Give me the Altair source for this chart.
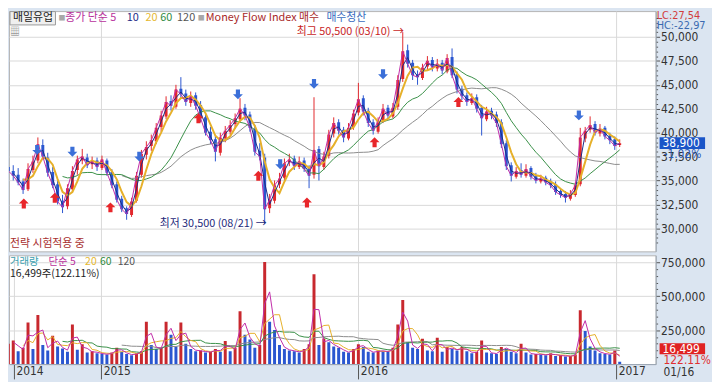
import altair as alt
import pandas as pd

# ---------------- data (weekly candles, won) ----------------
WEEK_START = "2014-08-22"
OPEN = [36400,36000,35600,34900,34100,36100,37100,38700,37400,35900,
        34600,32900,32300,34100,36100,37100,37400,36700,37100,36300,
        37100,35900,34600,33100,32100,31400,32900,35600,37700,38600,
        39100,40600,41700,43300,42700,44600,44100,43100,43900,42900,
        41600,40100,39300,37900,39400,40100,40900,41400,42600,41900,
        40400,38100,37400,32100,32900,34600,35300,36900,37300,36400,
        37100,36300,35600,38300,36400,37600,39900,41100,40300,39400,
        40600,42100,43600,42300,41100,40100,41300,42600,41700,42700,
        45600,48600,47300,46100,45700,46900,47600,46700,47300,46400,
        47900,46100,44600,43900,43100,43700,42600,41400,42300,41900,
        41100,38900,36600,35400,36100,35500,36300,35500,34900,35300,
        34900,34600,33900,33600,33100,33500,34600,39400,40300,40900,
        39900,40500,39700,39300,38700]
HIGH = [37200,36600,36300,35200,36800,37600,39500,39300,37900,36400,
        35000,33500,34600,36500,37600,38300,37800,37500,37400,37600,
        37300,36200,34900,33400,32300,33200,35900,38200,39100,39800,
        41000,42300,43800,43900,45000,45800,44500,44300,44200,43300,
        41900,40600,39700,40000,40700,41300,42000,43600,43000,42200,
        40800,38900,37800,33600,35000,35800,37300,37800,37600,37500,
        37400,36600,43700,38600,38000,40300,41600,41400,40600,41000,
        42400,45200,43900,42600,41400,41600,43000,42900,43100,46000,
        50500,49200,47600,46500,47200,48000,47900,47700,47600,48200,
        48800,46400,44900,44200,44100,44000,42900,42700,42600,42200,
        41400,39200,36900,36400,36800,36700,36500,35800,35600,35500,
        35200,34900,34200,33900,34000,34800,40500,40600,41700,41200,
        40900,40700,40000,39600,39300]
LOW = [35300,35000,34500,33600,33900,35800,36800,37200,35400,34200,
       32500,31600,32000,33800,35600,36700,36300,36200,36000,36100,
       35500,34200,32700,31700,30900,31200,32700,35300,37200,38100,
       38800,40100,41400,42300,42500,43600,42800,42700,42400,41100,
       39700,38800,37000,37600,39000,39800,40400,41100,41300,40100,
       37600,37100,30500,31600,32600,34200,35000,36500,36100,36200,
       35900,34200,35200,35000,36100,37300,39500,39800,39000,39200,
       40300,41800,41800,40600,39800,39900,41000,41400,41500,42400,
       45300,46800,45500,45000,45500,46500,46400,46400,46100,46200,
       45700,44100,43400,42800,42900,42100,39700,41200,41400,40600,
       38400,36100,34900,35200,35300,35300,35100,34700,34700,34500,
       34200,33500,33200,32700,32900,33300,34400,39000,40000,39700,
       39600,39300,38800,38200,38500]
CLOSE = [36000,35500,34800,34000,36200,37000,38800,37500,35800,34500,
         32800,32200,34200,36000,37200,37500,36600,37000,36400,37200,
         35800,34500,33000,32000,31500,32800,35500,37800,38500,39200,
         40500,41800,43200,42800,44500,44000,43200,43800,42800,41500,
         40000,39200,38000,39500,40200,40800,41500,42500,41800,40500,
         38000,37500,32000,33000,34500,35200,36800,37200,36500,37000,
         36200,35500,38200,36500,37500,39800,41000,40200,39500,40500,
         42000,43500,42200,41000,40200,41200,42500,41800,42600,45500,
         48500,47200,46000,45800,46800,47500,46800,47200,46500,47800,
         46000,44500,43800,43200,43600,42500,41500,42200,41800,41000,
         38800,36500,35500,36000,35600,36200,35400,35000,35200,34800,
         34500,33800,33500,33200,33600,34500,39500,40200,40800,40000,
         40400,39600,39200,38600,38900]
VOLUME = [150000,174000,95000,120000,305000,110000,361000,140000,100000,208000,
          130000,115000,90000,292000,105000,146000,85000,95000,80000,75000,
          70000,85000,120000,90000,75000,65000,80000,95000,312000,140000,
          110000,120000,312000,215000,130000,305000,150000,110000,95000,100000,
          85000,90000,110000,90000,170000,95000,120000,389000,215000,180000,
          120000,140000,750000,312000,250000,140000,110000,100000,95000,85000,
          110000,146000,660000,140000,188000,160000,130000,120000,90000,85000,
          110000,146000,125000,90000,85000,100000,95000,90000,120000,292000,
          472000,160000,120000,110000,187000,100000,95000,194000,90000,125000,
          110000,100000,125000,95000,80000,90000,174000,85000,80000,75000,
          125000,110000,90000,80000,150000,85000,70000,75000,70000,65000,
          80000,60000,65000,55000,60000,70000,396000,243000,130000,100000,
          80000,75000,70000,100000,16499]

BUY_DATES = ["2014-09-13", "2014-10-27", "2015-01-14", "2015-05-19",
             "2015-08-12", "2015-10-20", "2016-01-24", "2016-05-22"]
BUY_PRICES = [32600, 33200, 32200, 41500, 35500, 32700, 39000, 43200]
SELL_DATES = ["2014-10-02", "2014-11-21", "2015-02-24", "2015-07-14",
              "2015-09-12", "2015-10-30", "2016-02-05", "2016-11-09"]
SELL_PRICES = [38200, 38000, 37500, 44000, 36700, 45100, 46100, 41800]

HIGH_DATE, HIGH_PRICE, HIGH_TEXT = "2016-03-04", 50500, "최고 50,500 (03/10) →"
LOW_DATE, LOW_PRICE, LOW_TEXT = "2015-08-21", 30500, "최저 30,500 (08/21) →"

YEARS = [2015, 2016, 2017]
PRICE_MA = [(1, "#c02ca8", 1.0), (2, "#1c2a86", 1.0), (4, "#e6b02a", 2.0),
            (12, "#3a9048", 1.0), (24, "#8c8c8c", 1.0)]
VOLUME_MA = [(2, "#c02ca8", 1.0), (4, "#e6b02a", 1.0), (12, "#3a9048", 1.0),
             (24, "#8c8c8c", 1.0)]

# ---------------- layout / style ----------------
W, HP, HV = 654, 243, 110
P_DOM = [27600, 52700]
V_DOM = [0, 800000]
UP, DOWN = "#e2282d", "#2a56d0"
VUP, VDOWN = "#c8282e", "#2a56d0"
BG = "#dbe5f1"
KFONT = "Noto Sans CJK KR"
NFONT = "Liberation Sans Narrow, DejaVu Sans Condensed, Arial Narrow, sans-serif"

df = pd.DataFrame({
    "date": pd.date_range(WEEK_START, periods=len(CLOSE), freq="7D"),
    "open": OPEN, "high": HIGH, "low": LOW, "close": CLOSE, "volume": VOLUME,
})
buy = pd.DataFrame({"date": pd.to_datetime(BUY_DATES), "price": BUY_PRICES})
sell = pd.DataFrame({"date": pd.to_datetime(SELL_DATES), "price": SELL_PRICES})
hi_df = pd.DataFrame({"date": pd.to_datetime([HIGH_DATE]), "price": [HIGH_PRICE], "t": [HIGH_TEXT]})
lo_df = pd.DataFrame({"date": pd.to_datetime([LOW_DATE]), "price": [LOW_PRICE], "t": [LOW_TEXT]})

x_dom = [alt.DateTime(year=2014, month=8, date=30), alt.DateTime(year=2017, month=2, date=19)]
x_scale = alt.Scale(domain=x_dom)
year_vals = [alt.DateTime(year=y, month=1, date=1) for y in YEARS]

px_axis = alt.Axis(values=year_vals, labels=False, ticks=False, domain=False,
                   grid=True, title=None)
vx_axis = alt.Axis(values=[x_dom[0]] + year_vals, format="%Y", labelAlign="left",
                   labelFlush=False, labelOffset=2, labelPadding=-13, tickSize=15,
                   labelBaseline="top", grid=True, title=None, labelFont=NFONT,
                   labelFontSize=12)

major_p = "datum.value % 2500 === 0"
py_axis = alt.Axis(
    orient="right", values=list(range(28500, 52001, 500)), format=",d",
    labelExpr="datum.value % 2500 === 0 && datum.value >= 30000 && datum.value <= 50000 ? datum.label : ''",
    tickSize={"condition": {"test": major_p, "value": 4}, "value": 2},
    gridOpacity={"condition": {"test": major_p, "value": 1}, "value": 0},
    labelPadding=1, grid=True, title=None)
major_v = "datum.value % 250000 === 0"
vy_axis = alt.Axis(
    orient="right", values=list(range(50000, 750001, 50000)), format=",d",
    labelExpr="datum.value % 250000 === 0 ? datum.label : ''",
    tickSize={"condition": {"test": major_v, "value": 4}, "value": 2},
    gridOpacity={"condition": {"test": major_v, "value": 1}, "value": 0},
    labelPadding=1, grid=True, title=None)


def Xp():
    return alt.X("date:T", scale=x_scale, axis=px_axis, title=None)


def Xv():
    return alt.X("date:T", scale=x_scale, axis=vx_axis, title=None)


def Yp(f):
    return alt.Y(f"{f}:Q", scale=alt.Scale(domain=P_DOM, zero=False, nice=False),
                 axis=py_axis, title=None)


def Yv(f):
    return alt.Y(f"{f}:Q", scale=alt.Scale(domain=V_DOM, nice=False),
                 axis=vy_axis, title=None)


updown = alt.condition("datum.close >= datum.open", alt.value(UP), alt.value(DOWN))


def ma_line(field, k, color, sw, xf, yf):
    return (alt.Chart(df)
            .transform_window(ma=f"mean({field})", n="count()", frame=[-(k - 1), 0],
                              sort=[alt.SortField("date")])
            .transform_filter(f"datum.n >= {k}")
            .mark_line(color=color, strokeWidth=sw, clip=True)
            .encode(x=xf(), y=yf("ma")))


def txt(s, x, y, color, size=11, align="left", font=KFONT):
    return (alt.Chart(alt.Data(values=[{"t": s}]))
            .mark_text(align=align, baseline="middle", color=color, fontSize=size, font=font)
            .encode(x=alt.value(x), y=alt.value(y), text="t:N"))


def box(x0, x1, y0, y1, fill, stroke=None):
    kw = {"stroke": stroke, "strokeWidth": 1} if stroke else {}
    return (alt.Chart(alt.Data(values=[{}]))
            .mark_rect(color=fill, **kw)
            .encode(x=alt.value(x0), x2=alt.value(x1), y=alt.value(y0), y2=alt.value(y1)))


UP_ARROW = "M0,-1 L1,0 L0.42,0 L0.42,1 L-0.42,1 L-0.42,0 L-1,0 Z"
DOWN_ARROW = "M0,1 L1,0 L0.42,0 L0.42,-1 L-0.42,-1 L-0.42,0 L-1,0 Z"

# ---------------- price panel ----------------
wick = alt.Chart(df).mark_rule(strokeWidth=1, clip=True).encode(
    x=Xp(), y=Yp("low"), y2="high:Q", color=updown)
body = alt.Chart(df).mark_bar(size=3, clip=True).encode(
    x=Xp(), y=Yp("open"), y2="close:Q", color=updown)
p_mas = [ma_line("close", k, c, sw, Xp, Yp) for k, c, sw in reversed(PRICE_MA)]
buy_pts = alt.Chart(buy).mark_point(shape=UP_ARROW, size=100, filled=True, opacity=1,
                                    color="#e8262a").encode(x=Xp(), y=Yp("price"))
sell_pts = alt.Chart(sell).mark_point(shape=DOWN_ARROW, size=100, filled=True, opacity=1,
                                      color="#3b6fd8").encode(x=Xp(), y=Yp("price"))
hi_txt = alt.Chart(hi_df).mark_text(align="right", baseline="middle", dx=1, dy=0,
                                    color="#c81e1e", fontSize=11, font=KFONT).encode(
    x=Xp(), y=Yp("price"), text="t:N")
lo_txt = alt.Chart(lo_df).mark_text(align="right", baseline="middle", dx=2, dy=0,
                                    color="#1e2a7a", fontSize=11, font=KFONT).encode(
    x=Xp(), y=Yp("price"), text="t:N")

last_y = (P_DOM[1] - CLOSE[-1]) / (P_DOM[1] - P_DOM[0]) * HP
LY = 7
price_text = [
    box(1, 47, 0.5, 14, "#efefef", "#9a9a9a"),
    txt("매일유업", 4, LY, "#222222"),
    txt("■", 50, LY, "#a8a8a8", size=7),
    txt("종가 단순 5", 57, LY, "#b8309c"),
    txt("10", 119, LY, "#1c2a86"),
    txt("20", 138, LY, "#e6b830"),
    txt("60", 153, LY, "#2f8a40"),
    txt("120", 170, LY, "#555555"),
    txt("■", 191, LY, "#a8a8a8", size=7),
    txt("Money Flow Index 매수", 199, LY, "#a82828"),
    txt("매수청산", 321, LY, "#3a6cc0"),
    txt("▦", 1, 21, "#777777", size=10),
    txt("전략 시험적용 중", 1, HP - 7, "#a83030"),
    txt("LC:27,54", W + 1, 5.5, "#d23c3c", size=11, font=NFONT),
    txt("HC:-22,97", W + 1, 15, "#3a6ab0", size=11, font=NFONT),
    box(W + 4, W + 50, last_y - 6, last_y + 6, "#1a55c8"),
    txt(f"{CLOSE[-1]:,}", W + 7, last_y, "white", size=12, font=NFONT),
    txt("-1.02%", W + 8, last_y + 11, "#2a5ab8", size=12, font=NFONT),
]

price = alt.layer(wick, body, *p_mas, buy_pts, sell_pts, hi_txt, lo_txt,
                  *price_text).properties(width=W, height=HP)

# ---------------- volume panel ----------------
vol_change = alt.condition("datum.prev == null || datum.volume >= datum.prev",
                           alt.value(VUP), alt.value(VDOWN))
vbars = (alt.Chart(df)
         .transform_window(prev="lag(volume)", sort=[alt.SortField("date")])
         .mark_bar(size=3, clip=True)
         .encode(x=Xv(), y=Yv("volume"), color=vol_change))
v_mas = [ma_line("volume", k, c, sw, Xv, Yv) for k, c, sw in reversed(VOLUME_MA)]
vol_text = [
    txt("거래량", 1, 7, "#3a9fb0", size=10.5),
    txt("단순 5", 40, 7, "#b8309c", size=10.5),
    txt("20", 77, 7, "#e6b830", size=10.5),
    txt("60", 92, 7, "#2f8a40", size=10.5),
    txt("120", 110, 7, "#555555", size=10.5),
    txt(f"{VOLUME[-1]:,}주(122.11%)", 1, 19, "#222222", size=10.5),
    box(W + 4, W + 50, HV - 21, HV - 10, "#e02222"),
    txt(f"{VOLUME[-1]:,}", W + 7, HV - 15.5, "white", size=12, font=NFONT),
    txt("122.11%", W + 8, HV - 4, "#e03030", size=12, font=NFONT),
    txt("01/16", W + 8, HV + 8, "#333333", size=12, font=NFONT),
]
volume = alt.layer(vbars, *v_mas, *vol_text).properties(width=W, height=HV)

chart = (alt.vconcat(price, volume, spacing=2)
         .properties(padding=0, background=BG)
         .configure_view(fill="white", stroke="#b4b4b4", strokeWidth=1)
         .configure_axis(labelFont=NFONT, labelFontSize=12, labelColor="#333333",
                         tickColor="#555555", domainColor="#9aa6b4",
                         gridColor="#d9d9d9", gridWidth=1, labelOverlap=False))

chart.save("out.html", embed_options={"renderer": "svg", "actions": False})
